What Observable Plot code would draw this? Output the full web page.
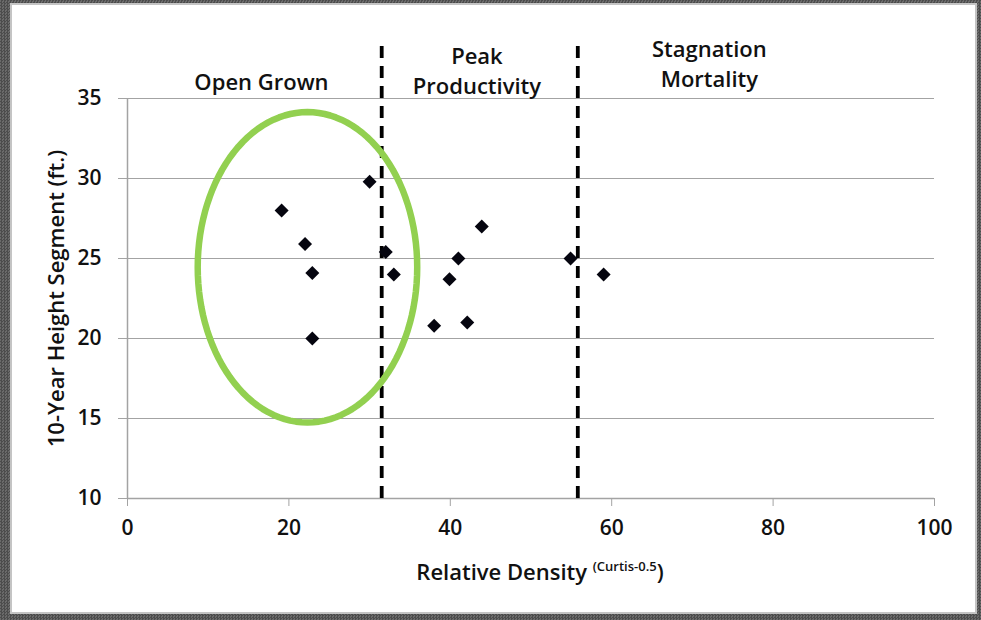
<!DOCTYPE html>
<html>
<head>
<meta charset="utf-8">
<script src="https://cdn.jsdelivr.net/npm/d3@7"></script>
<script src="https://cdn.jsdelivr.net/npm/@observablehq/plot@0.6"></script>
<style>
  html, body { margin: 0; padding: 0; }
  #frame {
    position: relative; width: 981px; height: 620px; overflow: hidden;
    background-color: #585858;
    background-image: repeating-conic-gradient(#4c4c4c 0% 25%, #6a6a6a 0% 50%);
    background-size: 3px 3px;
  }
  #panel {
    position: absolute; left: 10px; top: 3px; width: 963px; height: 607px;
    background: #fff; border: 2px solid #c4c4c4;
  }
  #chart { position: absolute; left: 0; top: 0; }
</style>
</head>
<body>
<div id="frame"><div id="panel"></div><div id="chart"></div></div>
<script>
// ---- data ----
const relDensity = [19.1, 22.0, 22.9, 22.9, 30.0, 32.0, 33.0, 38.0, 39.9, 41.0, 42.1, 43.9, 54.9, 59.0];
const heightSeg  = [28.0, 25.9, 24.1, 20.0, 29.8, 25.4, 24.0, 20.8, 23.7, 25.0, 21.0, 27.0, 25.0, 24.0];
const xTicks = [0, 20, 40, 60, 80, 100];
const yTicks = [10, 15, 20, 25, 30, 35];
const zoneBoundaries = [31.5, 55.8];
const zoneNames = ["Open Grown", "Peak\nProductivity", "Stagnation\nMortality"];
const zoneX = [16.6, 43.3, 72.1];
const zoneY = [36.1, 36.8, 37.25];
const ellipseCenter = [22.3, 24.45];
const ellipseRadii = [13.6, 9.7];

const points = relDensity.map((x, i) => ({x, y: heightSeg[i]}));
const zones = zoneNames.map((t, i) => ({text: t, x: zoneX[i], y: zoneY[i]}));
const ellipse = d3.range(0, 120).map(i => {
  const a = (i / 120) * 2 * Math.PI;
  return {x: ellipseCenter[0] + ellipseRadii[0] * Math.cos(a), y: ellipseCenter[1] + ellipseRadii[1] * Math.sin(a)};
});

const FONT = "'Open Sans', sans-serif";
const gridColor = "#a3a3a3";

const chart = Plot.plot({
  width: 981,
  height: 620,
  marginLeft: 127,
  marginRight: 47,
  marginTop: 98,
  marginBottom: 122,
  style: {fontFamily: FONT, background: "transparent", color: "#111", overflow: "visible"},
  x: {domain: [0, 100]},
  y: {domain: [10, 35]},
  marks: [
    Plot.gridY(yTicks.filter(d => d > 10), {stroke: gridColor, strokeOpacity: 1, strokeWidth: 1.2}),
    Plot.ruleY([10], {stroke: gridColor, strokeWidth: 1.5}),
    Plot.ruleX([0], {stroke: gridColor, strokeWidth: 1.5}),
    Plot.axisY({ticks: yTicks, tickSize: 9, tickPadding: 17, fontSize: 21, fontWeight: 600, stroke: gridColor, label: null}),
    Plot.axisX({ticks: xTicks, tickSize: 8, tickPadding: 14, fontSize: 21, fontWeight: 600, stroke: gridColor, label: null}),
    Plot.ruleX(zoneBoundaries, {y1: 10, y2: 38.6, stroke: "#000", strokeWidth: 3.8, strokeDasharray: "12,8"}),
    Plot.line(ellipse, {x: "x", y: "y", curve: "linear-closed", stroke: "#92D050", strokeWidth: 6.5}),
    Plot.dot(points, {x: "x", y: "y", symbol: "diamond2", fill: "#05050f", stroke: null, r: 6.3}),
    Plot.text(zones, {x: "x", y: "y", text: "text", fontSize: 22, fontWeight: 600, lineHeight: 1.35, fill: "#111"}),
    Plot.text(["10-Year Height Segment (ft.)"], {frameAnchor: "left", textAnchor: "middle", rotate: -90, dx: -71, dy: 0, fontSize: 22, fontWeight: 600, fill: "#111"})
  ]
});

// x-axis title with superscript
const svg = d3.select(chart);
const t = svg.append("text")
  .attr("x", 540).attr("y", 580)
  .attr("text-anchor", "middle")
  .attr("font-family", FONT).attr("font-size", 22).attr("font-weight", 600).attr("fill", "#111");
t.append("tspan").text("Relative Density ");
t.append("tspan").attr("font-size", 13).attr("dy", -9).text("(Curtis-0.5");
t.append("tspan").attr("dy", 9).text(")");

document.getElementById("chart").appendChild(chart);
</script>
</body>
</html>
